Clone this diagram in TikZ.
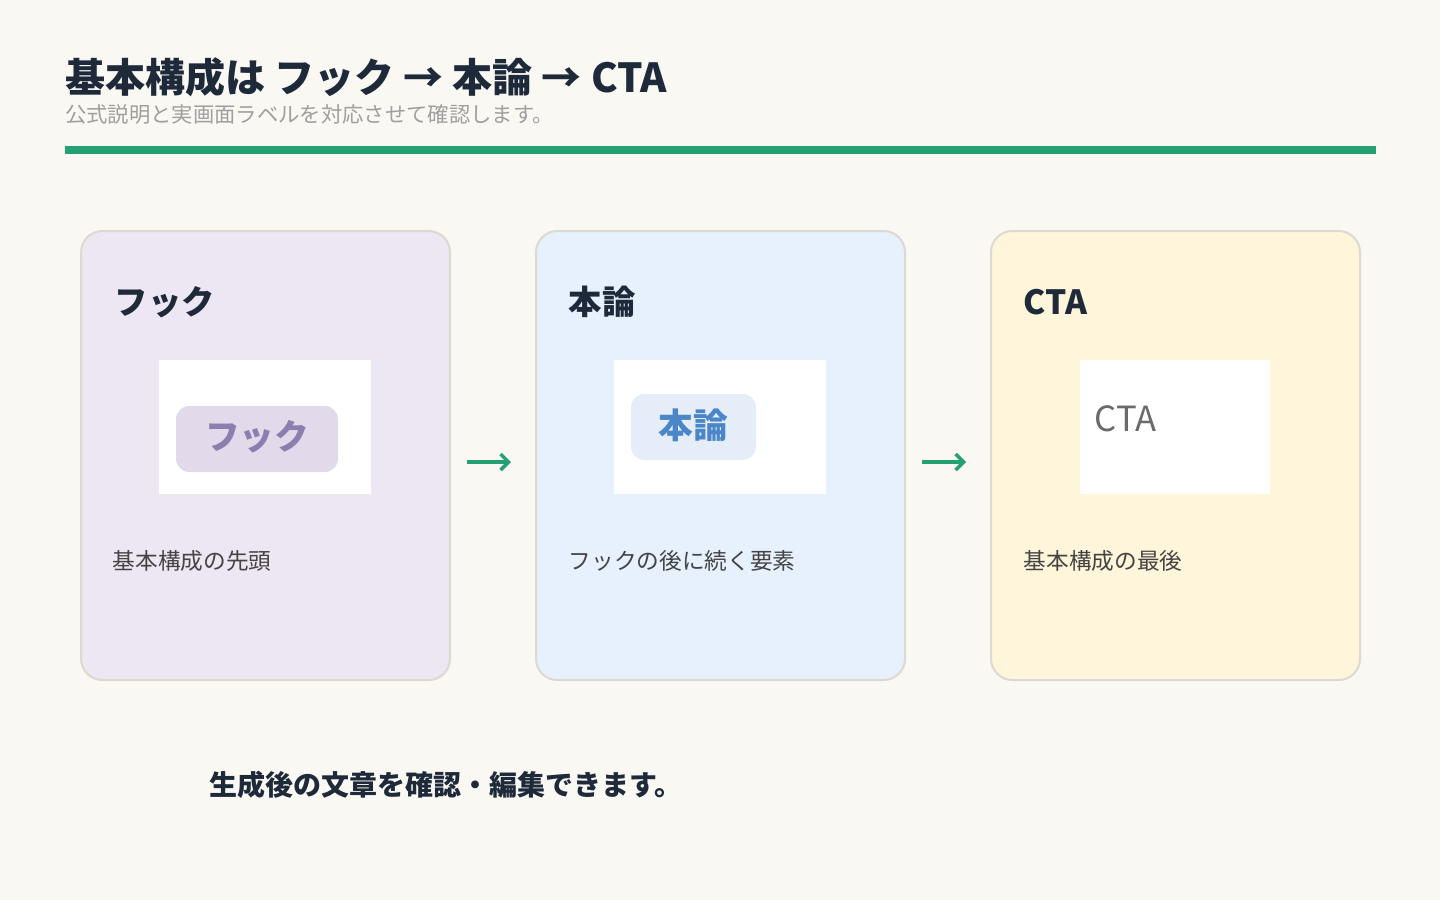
\documentclass[tikz,border=0pt]{standalone}
\usepackage{fontspec}
\usetikzlibrary{arrows.meta}
\setmainfont{Noto Sans CJK JP}
\definecolor{bg}{HTML}{F9F8F3}
\definecolor{ink}{HTML}{1E2A3A}
\definecolor{grn}{HTML}{24A073}
\definecolor{cardline}{HTML}{DDD9D1}
\definecolor{desc}{HTML}{444444}
\definecolor{c1}{HTML}{EDE6F3}
\definecolor{c2}{HTML}{E7F0FD}
\definecolor{c3}{HTML}{FEF5DA}
\definecolor{pl1}{HTML}{E2DAEB}
\definecolor{pl2}{HTML}{E5EDF9}
\definecolor{tx1}{HTML}{8E7DAF}
\definecolor{tx2}{HTML}{4A86C8}
\definecolor{tx3}{HTML}{6A6A6A}
\begin{document}
\begin{tikzpicture}[x=0.75pt,y=-0.75pt,
  card/.style={draw=cardline,line width=1.5pt,rounded corners=16pt},
  wbox/.style={fill=white,draw=none},
  pill/.style={rounded corners=10pt,draw=none},
  ttl/.style={anchor=west,font=\fontsize{25}{30}\selectfont\bfseries,text=ink},
  desc/.style={anchor=west,font=\fontsize{17}{20}\selectfont,text=desc},
  arr/.style={-{Straight Barb[length=6pt,width=12pt]},draw=grn,line width=2.6pt}]
\useasboundingbox (0,0) rectangle (1440,900);
\fill[bg] (0,0) rectangle (1440,900);
\node[anchor=base west,inner sep=0,font=\fontsize{30}{36}\selectfont\bfseries,text=ink] (title) at (65,92) {基本構成は フック → 本論 → CTA};
\node[anchor=base west,inner sep=0,font=\fontsize{16}{19}\selectfont,text=gray!75] (sub) at (65,122) {公式説明と実画面ラベルを対応させて確認します。};
\fill[grn] (65,146) rectangle (1376,154);
\draw[card,fill=c1] (81,231) rectangle (450,680);
\draw[card,fill=c2] (536,231) rectangle (905,680);
\draw[card,fill=c3] (991,231) rectangle (1360,680);
\node[ttl] (t1) at (110,302) {フック};
\node[ttl] (t2) at (564,302) {本論};
\node[ttl] (t3) at (1019,302) {CTA};
\fill[wbox] (159,360) rectangle (371,494);
\fill[wbox] (614,360) rectangle (826,494);
\fill[wbox] (1080,360) rectangle (1270,494);
\fill[pill,fill=pl1] (176,406) rectangle (338,472);
\node[font=\fontsize{26}{30}\selectfont\bfseries,text=tx1] (p1) at (257,437) {フック};
\fill[pill,fill=pl2] (631,394) rectangle (756,460);
\node[font=\fontsize{26}{30}\selectfont\bfseries,text=tx2] (p2) at (693,425) {本論};
\node[anchor=west,font=\fontsize{26}{30}\selectfont,text=tx3] (p3) at (1090,419) {CTA};
\node[desc] (d1) at (108,561) {基本構成の先頭};
\node[desc] (d2) at (564,561) {フックの後に続く要素};
\node[desc] (d3) at (1019,561) {基本構成の最後};
\coordinate (a1s) at (467,462); \coordinate (a1e) at (511,462);
\coordinate (a2s) at (922,462); \coordinate (a2e) at (966,462);
\draw[arr] (a1s) -- (a1e);
\draw[arr] (a2s) -- (a2e);
\node[anchor=west,font=\fontsize{21}{25}\selectfont\bfseries,text=ink] (foot) at (205,785) {生成後の文章を確認・編集できます。};
\end{tikzpicture}
\end{document}
